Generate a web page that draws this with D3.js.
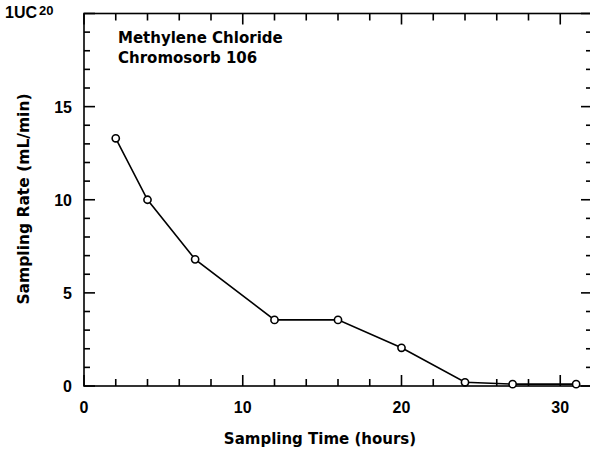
<!DOCTYPE html>
<html>
<head>
<meta charset="utf-8">
<script src="https://cdn.jsdelivr.net/npm/d3@7"></script>
<style>
  html, body { margin: 0; padding: 0; background: #fff; }
  svg { display: block; }
  text { fill: #000; }
</style>
</head>
<body>
<svg id="chart" width="590" height="458"></svg>
<script>
// Sampling rate of methylene chloride on Chromosorb 106 over time
const hours = [2, 4, 7, 12, 16, 20, 24, 27, 31];
const rate  = [13.3, 10.0, 6.8, 3.55, 3.55, 2.05, 0.2, 0.1, 0.1];

const xTickLabels = [0, 10, 20, 30];
const yTickLabels = [0, 5, 10, 15, 20];
const legendLines = ["Methylene Chloride", "Chromosorb 106"];

const svg = d3.select("#chart");
const plotL = 84, plotR = 592, plotT = 13.5, plotB = 386;

const x = d3.scaleLinear().domain([0, 32]).range([plotL, plotR]);
const y = d3.scaleLinear().domain([0, 20]).range([plotB, plotT]);

const ink = "#000";

// frame
svg.append("rect")
  .attr("x", plotL).attr("y", plotT)
  .attr("width", plotR - plotL).attr("height", plotB - plotT)
  .attr("fill", "none").attr("stroke", ink).attr("stroke-width", 1.6);

// inward ticks on all four sides
const xTicks = d3.range(0, 33, 2);
const yTicks = d3.range(0, 21, 1);
const g = svg.append("g").attr("stroke", ink).attr("stroke-width", 1.6);

xTicks.forEach(t => {
  const len = t % 10 === 0 ? 11 : 7;
  g.append("line").attr("x1", x(t)).attr("x2", x(t)).attr("y1", plotB).attr("y2", plotB - len);
  g.append("line").attr("x1", x(t)).attr("x2", x(t)).attr("y1", plotT).attr("y2", plotT + len);
});
yTicks.forEach(t => {
  const len = t % 5 === 0 ? 11 : 6;
  g.append("line").attr("y1", y(t)).attr("y2", y(t)).attr("x1", plotL).attr("x2", plotL + len);
  g.append("line").attr("y1", y(t)).attr("y2", y(t)).attr("x1", plotR).attr("x2", plotR - len);
});

// tick labels
const tickFont = "bold 16px 'Liberation Sans', Arial, sans-serif";
svg.append("g").selectAll("text").data(xTickLabels).join("text")
  .attr("x", d => x(d)).attr("y", 413)
  .attr("text-anchor", "middle")
  .style("font", tickFont)
  .text(d => d);

svg.append("g").selectAll("text").data(yTickLabels.filter(d => d !== 20)).join("text")
  .attr("x", 72).attr("y", d => y(d) + 6)
  .attr("text-anchor", "end")
  .style("font", tickFont)
  .text(d => d);

// top-left corner label
svg.append("text").attr("x", 5).attr("y", 18)
  .style("font", "bold 16px 'Liberation Sans', Arial, sans-serif")
  .text("1UC");
svg.append("text").attr("x", 39).attr("y", 15)
  .style("font", "bold 13px 'Liberation Sans', Arial, sans-serif")
  .text("20");

// axis titles
svg.append("text")
  .attr("x", (plotL + 560) / 2 - 2).attr("y", 444)
  .attr("text-anchor", "middle")
  .style("font", "bold 15px 'DejaVu Sans', sans-serif")
  .text("Sampling Time (hours)");

svg.append("text")
  .attr("transform", "translate(29,199) rotate(-90)")
  .attr("text-anchor", "middle")
  .style("font", "bold 15.5px 'DejaVu Sans', sans-serif")
  .text("Sampling Rate (mL/min)");

// legend text
svg.append("g").selectAll("text").data(legendLines).join("text")
  .attr("x", 118).attr("y", (d, i) => 43 + i * 20)
  .style("font", "bold 15px 'DejaVu Sans', sans-serif")
  .text(d => d);

// data line and open circle markers
const pts = hours.map((h, i) => [h, rate[i]]);
svg.append("path")
  .datum(pts)
  .attr("fill", "none").attr("stroke", ink).attr("stroke-width", 1.6)
  .attr("d", d3.line().x(d => x(d[0])).y(d => y(d[1])));

svg.append("g").selectAll("circle").data(pts).join("circle")
  .attr("cx", d => x(d[0])).attr("cy", d => y(d[1]))
  .attr("r", 3.6)
  .attr("fill", "#fff").attr("stroke", ink).attr("stroke-width", 1.6);
</script>
</body>
</html>
